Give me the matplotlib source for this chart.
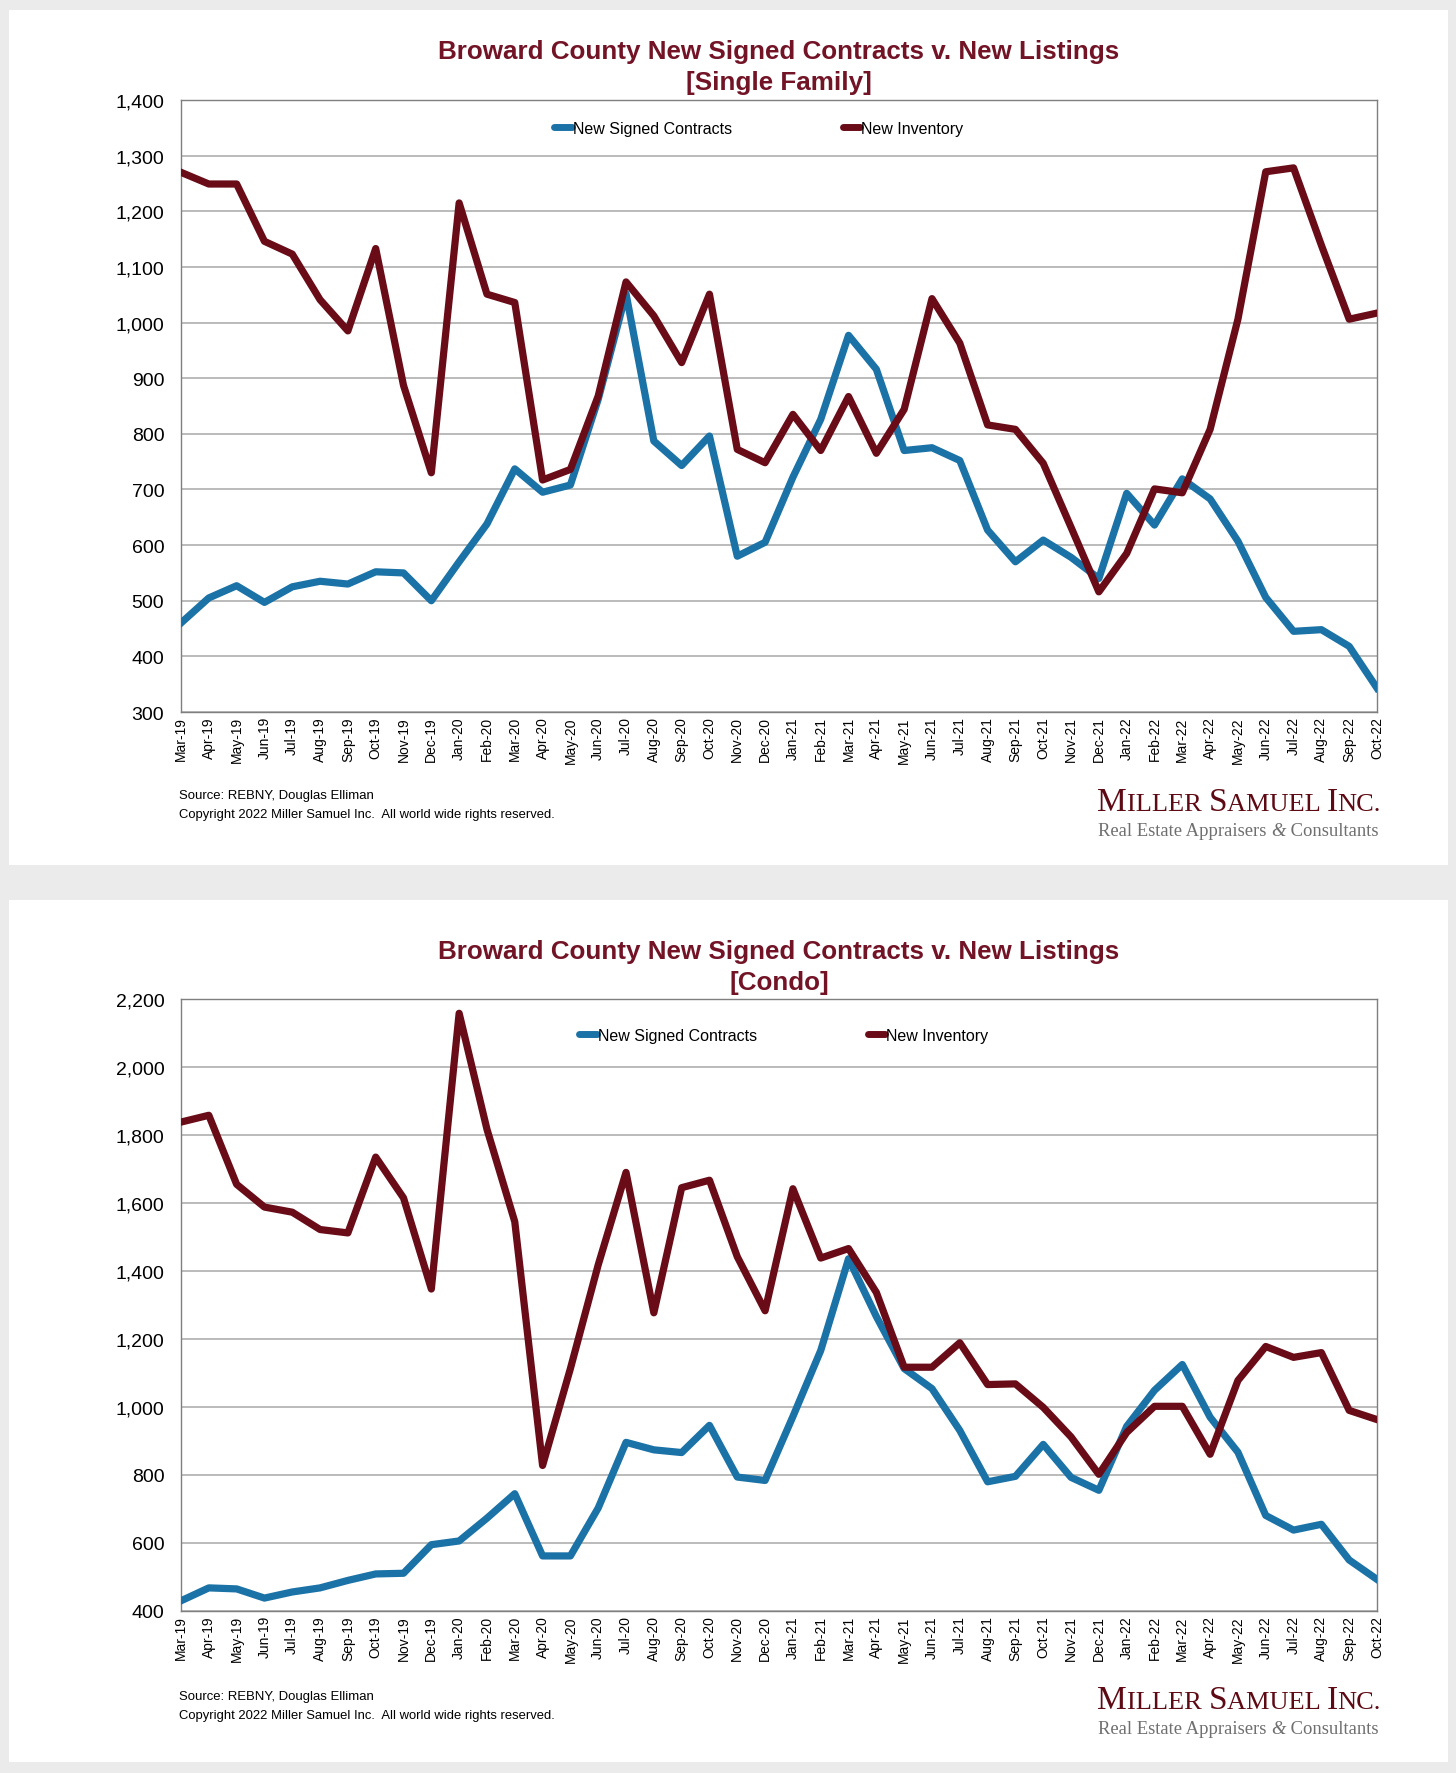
import matplotlib
matplotlib.use('Agg')
import matplotlib.pyplot as plt
from matplotlib.patches import Rectangle
from matplotlib.ticker import FuncFormatter, MultipleLocator

W, H = 1456, 1774
DPI = 100

months = ['Mar-19', 'Apr-19', 'May-19', 'Jun-19', 'Jul-19', 'Aug-19', 'Sep-19', 'Oct-19', 'Nov-19', 'Dec-19',
          'Jan-20', 'Feb-20', 'Mar-20', 'Apr-20', 'May-20', 'Jun-20', 'Jul-20', 'Aug-20', 'Sep-20', 'Oct-20', 'Nov-20', 'Dec-20',
          'Jan-21', 'Feb-21', 'Mar-21', 'Apr-21', 'May-21', 'Jun-21', 'Jul-21', 'Aug-21', 'Sep-21', 'Oct-21', 'Nov-21', 'Dec-21',
          'Jan-22', 'Feb-22', 'Mar-22', 'Apr-22', 'May-22', 'Jun-22', 'Jul-22', 'Aug-22', 'Sep-22', 'Oct-22']

sf_contracts = [460, 505, 527, 497, 525, 535, 530, 552, 550, 500,
                570, 638, 737, 695, 708, 862, 1052, 787, 743, 796, 580, 605,
                722, 826, 977, 916, 770, 775, 752, 627, 570, 609, 578, 540,
                693, 636, 719, 683, 607, 506, 445, 448, 418, 343]
sf_inventory = [1270, 1249, 1249, 1146, 1123, 1041, 985, 1133, 887, 730,
                1215, 1051, 1036, 717, 736, 868, 1073, 1012, 928, 1051, 772, 748,
                835, 770, 867, 765, 844, 1043, 963, 816, 808, 747, 632, 516,
                585, 701, 694, 808, 1006, 1271, 1278, 1139, 1006, 1017]
condo_contracts = [430, 468, 465, 438, 456, 468, 490, 509, 511, 595,
                   606, 673, 745, 562, 562, 703, 896, 874, 866, 946, 794, 784,
                   972, 1166, 1436, 1266, 1113, 1054, 931, 780, 796, 890, 793, 755,
                   943, 1049, 1125, 970, 867, 681, 638, 655, 550, 493]
condo_inventory = [1838, 1858, 1655, 1588, 1573, 1522, 1512, 1735, 1615, 1347,
                   2158, 1817, 1545, 828, 1113, 1418, 1690, 1277, 1645, 1667, 1442, 1283,
                   1642, 1438, 1466, 1337, 1117, 1117, 1189, 1066, 1068, 999, 912, 802,
                   925, 1002, 1002, 861, 1078, 1178, 1146, 1160, 990, 963]

series_names = ['New Signed Contracts', 'New Inventory']
title_line1 = 'Broward County New Signed Contracts v. New Listings'
subtitles = ['[Single Family]', '[Condo]']
source_lines = ['Source: REBNY, Douglas Elliman',
                'Copyright 2022 Miller Samuel Inc.  All world wide rights reserved.']

BLUE = '#1b72a6'
MAROON = '#690c18'
TITLE_C = '#721326'
SANS = ['Liberation Sans', 'DejaVu Sans']
SERIF = ['Liberation Serif', 'DejaVu Serif']

fig = plt.figure(figsize=(W / DPI, H / DPI), dpi=DPI, facecolor='#ebebeb')


def fx(px):
    return px / W


def fy(py):
    return 1 - py / H


# white panels (behind the axes)
for top, bottom in [(11, 866), (901, 1763)]:
    fig.patches.append(Rectangle((fx(9), fy(bottom)), fx(1448) - fx(9), fy(top) - fy(bottom),
                                 transform=fig.transFigure, facecolor='white', edgecolor='none', zorder=-5))

renderer = fig.canvas.get_renderer()


def draw_runs(runs, x_right, y_base, color):
    """runs: list of (text, size, style). Right-aligned at x_right (px), baseline y_base (px from top)."""
    objs = []
    x = 0.0
    for s, size, style in runs:
        t = fig.text(fx(x), fy(y_base), s, fontsize=size, family=SERIF, style=style,
                     color=color, ha='left', va='baseline')
        w = t.get_window_extent(renderer).width
        objs.append((t, x))
        x += w
    shift = x_right - x
    for t, x0 in objs:
        t.set_x(fx(x0 + shift))


def make_panel(contracts, inventory, ylim, ystep, subtitle, ax_top, ax_bottom,
               title_y, leg_x, leg_y, src_y, logo_y):
    ax = fig.add_axes([fx(181), fy(ax_bottom), fx(1377 - 181), (ax_bottom - ax_top) / H])
    x = list(range(len(months)))
    ax.plot(x, contracts, color=BLUE, lw=5.2, label=series_names[0], zorder=3)
    ax.plot(x, inventory, color=MAROON, lw=5.2, label=series_names[1], zorder=4)
    ax.set_xlim(0, len(months) - 1)
    ax.set_ylim(*ylim)
    ax.yaxis.set_major_locator(MultipleLocator(ystep))
    ax.yaxis.set_major_formatter(FuncFormatter(lambda v, p: f'{v:,.0f}'))
    ax.set_xticks(x)
    ax.set_xticklabels(months, rotation=90, fontsize=10, family=SANS)
    for lab in ax.get_yticklabels():
        lab.set_family(SANS)
    ax.tick_params(axis='y', labelsize=14, length=0, pad=12)
    ax.tick_params(axis='x', length=0, pad=3)
    ax.grid(axis='y', color='#a8a8a8', lw=1.1)
    ax.set_axisbelow(True)
    for sp in ax.spines.values():
        sp.set_color('#7f7f7f')
        sp.set_linewidth(1.0)
    leg = ax.legend(loc='center', bbox_to_anchor=(leg_x, leg_y), ncol=2, frameon=False,
                    handlelength=1.1, handletextpad=0.05, columnspacing=6.95,
                    prop={'family': SANS, 'size': 11.5})
    for h in leg.get_lines():
        h.set_linewidth(5)
        h.set_solid_capstyle('round')
    fig.text(fx(779), fy(title_y), title_line1, ha='center', va='center', fontsize=18.7,
             fontweight='bold', color=TITLE_C, family=SANS)
    fig.text(fx(779), fy(title_y + 31), subtitle, ha='center', va='center', fontsize=18.7,
             fontweight='bold', color=TITLE_C, family=SANS)
    fig.text(fx(179), fy(src_y), source_lines[0], fontsize=9.45, family=SANS, va='center', ha='left')
    fig.text(fx(179), fy(src_y + 19), source_lines[1], fontsize=9.4, family=SANS, va='center', ha='left')
    draw_runs([('M', 24, 'normal'), ('ILLER ', 19, 'normal'), ('S', 24, 'normal'),
               ('AMUEL ', 19, 'normal'), ('I', 24, 'normal'), ('NC.', 19, 'normal')],
              1381, logo_y, '#5e0a14')
    draw_runs([('Real Estate Appraisers ', 13.4, 'normal'), ('&', 13.4, 'italic'),
               (' Consultants', 13.4, 'normal')], 1378, logo_y + 25, '#6f6f6f')
    return ax


make_panel(sf_contracts, sf_inventory, (300, 1400), 100, subtitles[0], 101, 713,
           52, 0.483, 0.954, 796, 811)
make_panel(condo_contracts, condo_inventory, (400, 2200), 200, subtitles[1], 1000, 1612,
           952, 0.504, 0.941, 1697, 1709)

fig.savefig('out.png', dpi=DPI, facecolor=fig.get_facecolor())
